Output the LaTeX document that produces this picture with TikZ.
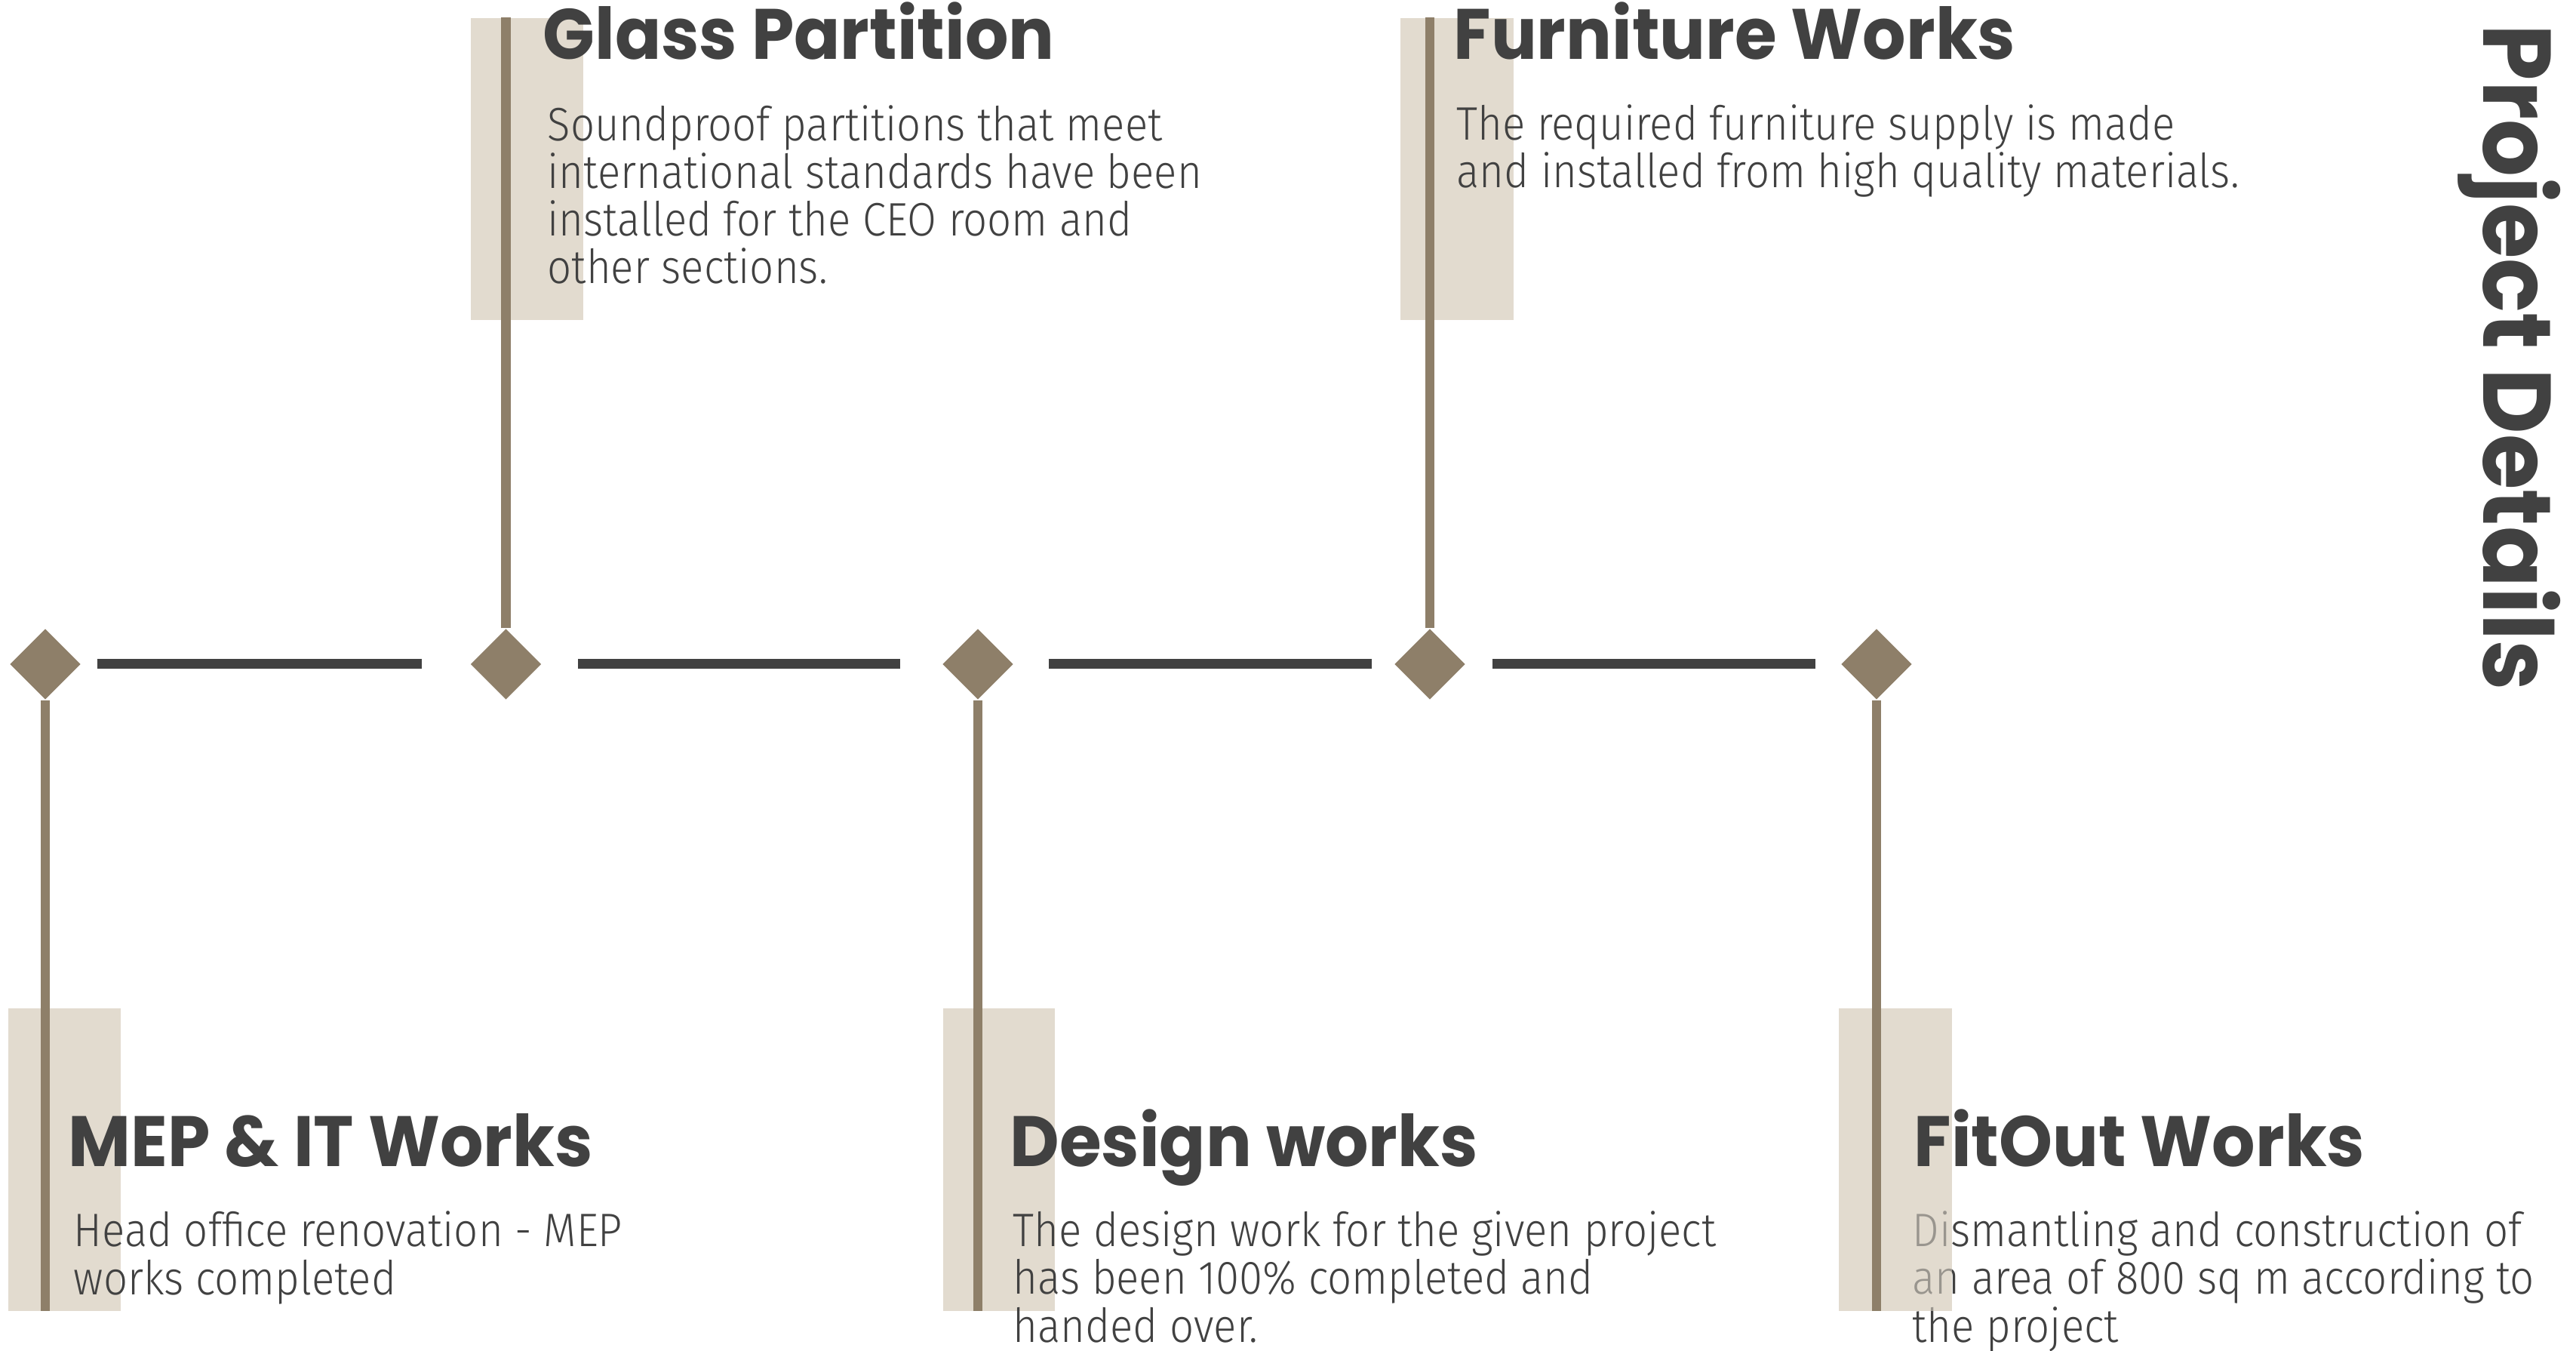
\documentclass[tikz,border=0pt]{standalone}
\usepackage{fontspec}
\usetikzlibrary{shapes.geometric}
\newfontfamily\headfont{Poppins}[FakeStretch=0.955]
\newfontfamily\sidefont{Poppins}[FakeStretch=0.935]
\newfontfamily\bodyfont{Fira Sans Light}[FakeStretch=0.905]
\definecolor{ink}{HTML}{414141}
\definecolor{tan}{HTML}{8E7F69}
\definecolor{sand}{HTML}{E2DBCF}

\begin{document}
\begin{tikzpicture}[
	diam/.style={shape=diamond, fill=tan, inner sep=0, minimum width=0.94cm, minimum height=0.94cm},
	bar/.style={draw=ink, line width=0.13cm},
	stem/.style={draw=tan, line width=0.125cm},
	panel/.style={fill=sand},
	head/.style={anchor=base west, inner sep=0, text=ink, font=\headfont\bfseries\fontsize{26.9}{30}\selectfont},
	body/.style={anchor=base west, inner sep=0, text=ink, align=left, font=\bodyfont\fontsize{17.7}{17.93}\selectfont}]

	\useasboundingbox (0,0) rectangle (34.14,17.89);

	\fill[panel] (6.24,17.65) rectangle (7.73,13.65);
	\fill[panel] (18.56,17.65) rectangle (20.06,13.65);
	\fill[panel] (0.11,4.53) rectangle (1.60,0.52);
	\fill[panel] (12.50,4.53) rectangle (13.98,0.52);
	\fill[panel] (24.37,4.53) rectangle (25.87,0.52);

	% titles (baseline)
	\node[head] (glass title)  at (7.19,17.10)  {Glass Partition};
	\node[head] (furn title)   at (19.26,17.10) {Furniture Works};
	\node[head] (mep title)    at (0.90,2.43)   {MEP \& IT Works};
	\node[head] (design title) at (13.38,2.43)  {Design works};
	\node[head] (fitout title) at (25.36,2.43)  {FitOut Works};

	% descriptions (baseline of last line)
	\node[body] (glass text)  at (7.25,14.13)  {Soundproof partitions that meet\\international standards have been\\installed for the CEO room and\\other sections.};
	\node[body] (furn text)   at (19.30,15.40) {The required furniture supply is made\\and installed from high quality materials.};
	\node[body] (mep text)    at (0.97,0.74)   {Head office renovation - MEP\\works completed};
	\node[body] (design text) at (13.42,0.11)  {The design work for the given project\\has been 100\% completed and\\handed over.};
	\node[body] (fitout text) at (25.34,0.11)  {Dismantling and construction of\\an area of 800 sq m according to\\the project};

	\fill[panel, fill opacity=0.55] (24.37,2.0) rectangle (25.87,0.52);

	\node[diam] (mep)    at (0.60,9.09)  {};
	\node[diam] (glass)  at (6.705,9.09) {};
	\node[diam] (design) at (12.96,9.09) {};
	\node[diam] (furn)   at (18.95,9.09) {};
	\node[diam] (fitout) at (24.87,9.09) {};

	\coordinate (mep end)    at (0.60,0.52);
	\coordinate (glass end)  at (6.705,17.66);
	\coordinate (design end) at (12.96,0.52);
	\coordinate (furn end)   at (18.95,17.66);
	\coordinate (fitout end) at (24.87,0.52);

	\draw[stem] (mep.south) -- (mep end);
	\draw[stem] (glass.north) -- (glass end);
	\draw[stem] (design.south) -- (design end);
	\draw[stem] (furn.north) -- (furn end);
	\draw[stem] (fitout.south) -- (fitout end);

	\draw[bar] ([xshift=2.1mm]mep.east) -- ([xshift=-6.4mm]glass.west);
	\draw[bar] ([xshift=4.8mm]glass.east) -- ([xshift=-5.5mm]design.west);
	\draw[bar] ([xshift=4.6mm]design.east) -- ([xshift=-2.9mm]furn.west);
	\draw[bar] ([xshift=3.5mm]furn.east) -- ([xshift=-3.3mm]fitout.west);

	\node[rotate=-90, anchor=base west, inner sep=0, text=ink, font=\sidefont\bfseries\fontsize{36.3}{40}\selectfont] (heading) at (32.91,17.57) {Project Details};

\end{tikzpicture}
\end{document}
